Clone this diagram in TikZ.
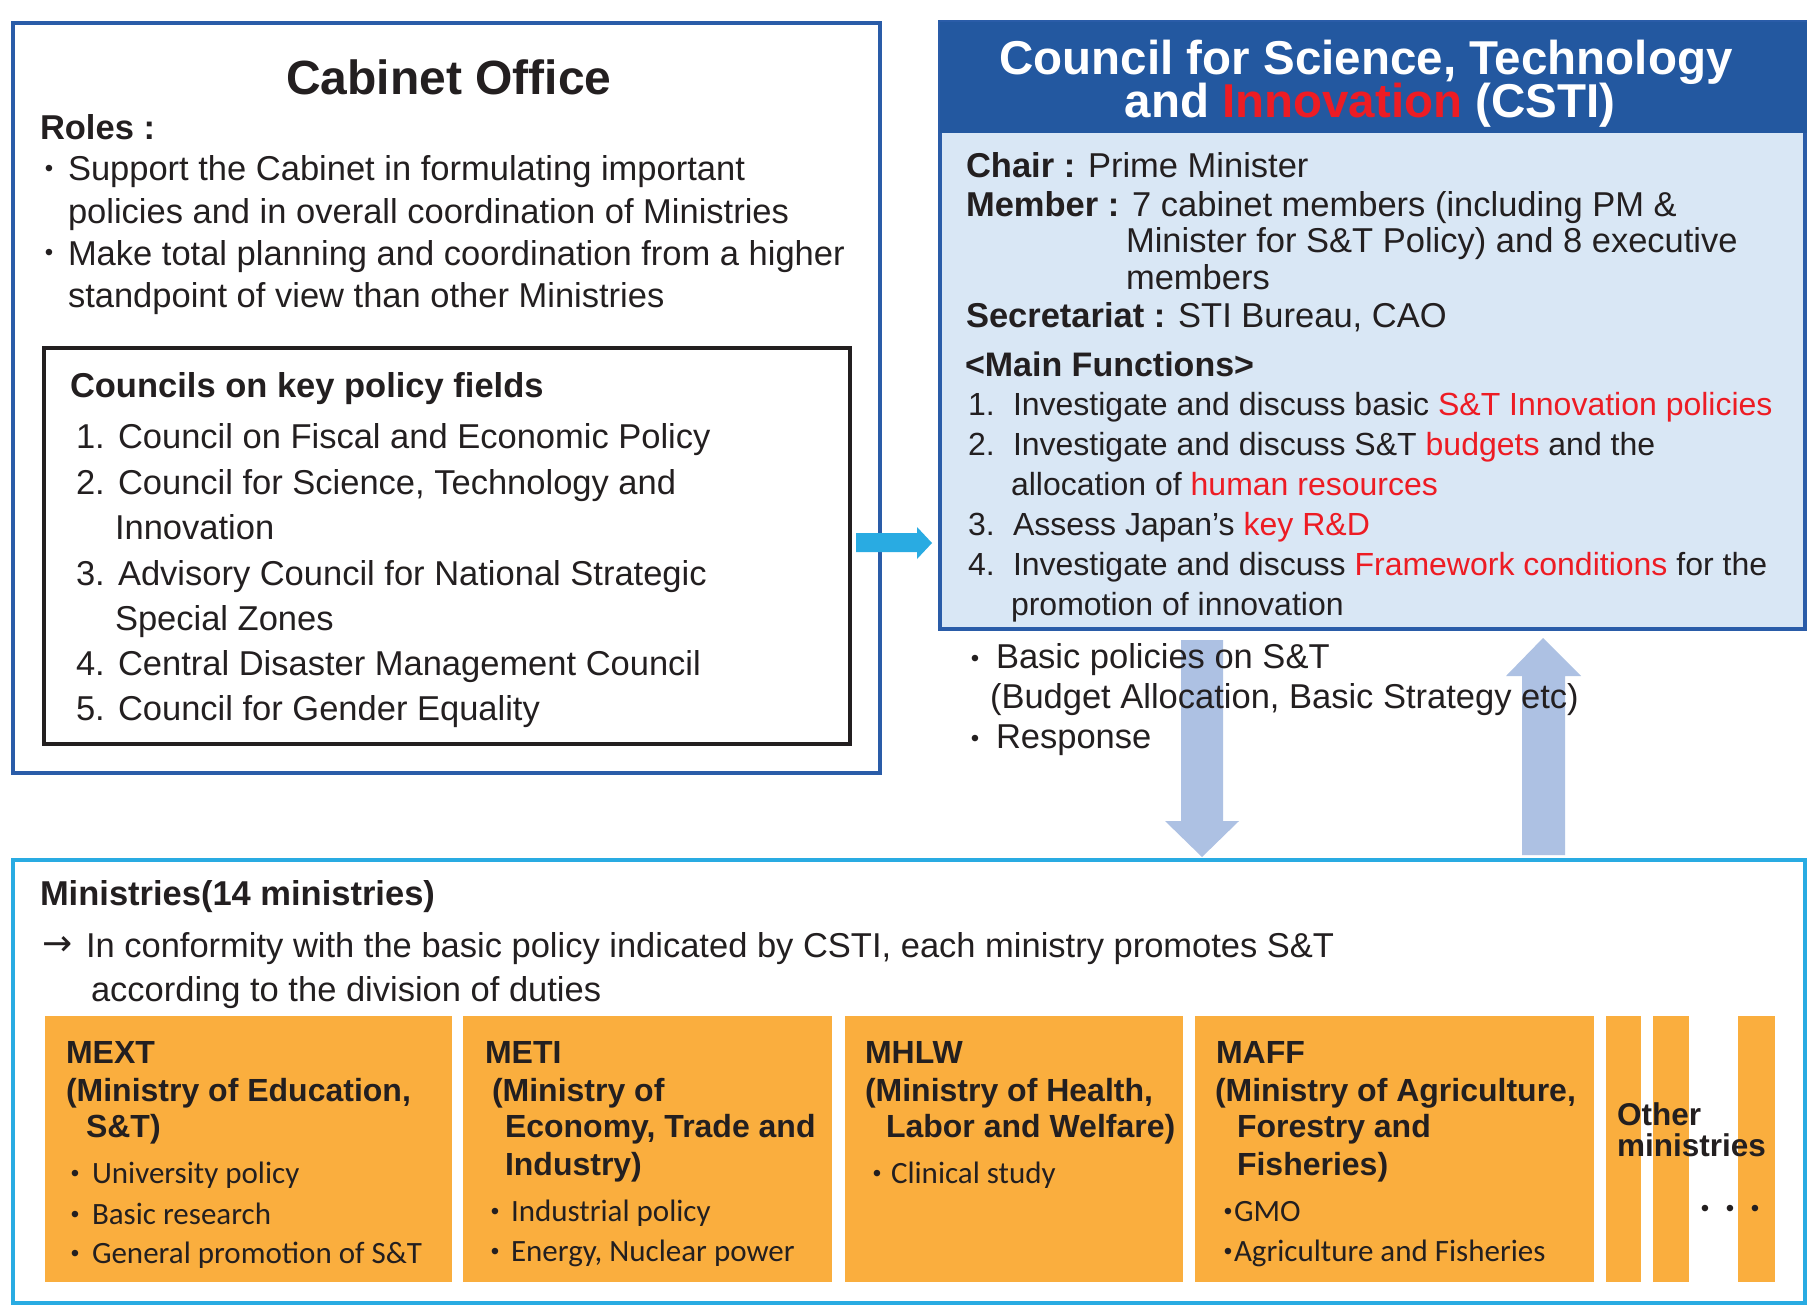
\documentclass[tikz,border=0pt]{standalone}
\usepackage{fontspec}
\setmainfont{Liberation Sans}
\newfontfamily\myr{Carlito}
\newfontfamily\djv{DejaVu Sans}
\definecolor{ink}{RGB}{35,31,32}
\definecolor{cobalt}{RGB}{42,92,168}
\definecolor{hdrblue}{RGB}{35,88,160}
\definecolor{paleblue}{RGB}{217,231,245}
\definecolor{redtx}{RGB}{237,28,36}
\definecolor{cyanln}{RGB}{41,171,226}
\definecolor{arrowblue}{RGB}{173,193,227}
\definecolor{orangebx}{RGB}{250,174,62}
\tikzset{
  txt/.style={anchor=base west, inner sep=0pt, outer sep=0pt, text=ink, font=\fontsize{34.5}{40}\selectfont},
  txtb/.style={txt, font=\fontsize{34.5}{40}\selectfont\bfseries},
  fn/.style={txt, font=\fontsize{32}{38}\selectfont},
  title/.style={anchor=base, inner sep=0pt, text=ink, font=\fontsize{48}{52}\selectfont\bfseries},
  hdr/.style={anchor=base, inner sep=0pt, text=white, font=\fontsize{47.5}{50}\selectfont\bfseries},
  minh/.style={txt, font=\fontsize{32}{37}\selectfont\bfseries},
  mins/.style={txt, font=\myr\fontsize{31}{37}\selectfont},
  dot/.style={anchor=base, inner sep=0pt, text=ink, font=\fontsize{24}{24}\selectfont},
  frame/.style={draw, line width=#1, inner sep=0pt, outer sep=0pt},
  obox/.style={fill=orangebx, inner sep=0pt, outer sep=0pt, anchor=north west},
  bigarrow/.style={fill=arrowblue, draw=none},
}
\begin{document}
\begin{tikzpicture}[x=1pt,y=-1pt]
\useasboundingbox (0,0) rectangle (1809,1316);
\fill[white] (0,0) rectangle (1809,1316);

% ---------- Cabinet Office ----------
\node[frame=3.5pt, draw=cobalt, minimum width=867pt, minimum height=750pt] (co) at (446.5,398) {};
\node[title] (co_title) at (449,95) {Cabinet Office};
\node[txtb] (co_roles) at (40,140) {Roles :};
\node[dot] (co_d1) at (49,176.5) {•};
\node[txt] (co_r1a) at (68,181) {Support the Cabinet in formulating important};
\node[txt] (co_r1b) at (68,223) {policies and in overall coordination of Ministries};
\node[dot] (co_d2) at (49,260.5) {•};
\node[txt] (co_r2a) at (68,265) {Make total planning and coordination from a higher};
\node[txt] (co_r2b) at (68,307) {standpoint of view than other Ministries};

\node[frame=4pt, draw=ink, minimum width=805.5pt, minimum height=396pt] (kc) at (446.75,546) {};
\node[txtb] (kc_h) at (70,397) {Councils on key policy fields};
\node[txt] (kc_n1) at (76,448) {1.};
\node[txt] (kc_t1) at (118,448) {Council on Fiscal and Economic Policy};
\node[txt] (kc_n2) at (76,494) {2.};
\node[txt] (kc_t2) at (118,494) {Council for Science, Technology and};
\node[txt] (kc_t2b) at (115,539) {Innovation};
\node[txt] (kc_n3) at (76,585) {3.};
\node[txt] (kc_t3) at (118,585) {Advisory Council for National Strategic};
\node[txt] (kc_t3b) at (115,630) {Special Zones};
\node[txt] (kc_n4) at (76,675) {4.};
\node[txt] (kc_t4) at (118,675) {Central Disaster Management Council};
\node[txt] (kc_n5) at (76,720) {5.};
\node[txt] (kc_t5) at (118,720) {Council for Gender Equality};

% ---------- CSTI ----------
\node[frame=4pt, draw=cobalt, fill=paleblue, minimum width=865pt, minimum height=607pt] (csti) at (1372.5,325.5) {};
\fill[hdrblue] (csti.north west) rectangle (1807,133);
\node[hdr] (csti_t1) at (1366,75) {Council for Science, Technology};
\node[hdr] (csti_t2) at (1370,118) {and \textcolor{redtx}{Innovation} (CSTI)};
\node[txt] (cs_chair) at (966,178) {\textbf{Chair :} Prime Minister};
\node[txt] (cs_mem) at (966,216) {\textbf{Member :} 7 cabinet members (including PM \&};
\node[txt] (cs_mem2) at (1126,252) {Minister for S\&T Policy) and 8 executive};
\node[txt] (cs_mem3) at (1126,289) {members};
\node[txt] (cs_sec) at (966,327) {\textbf{Secretariat :} STI Bureau, CAO};
\node[txtb, font=\fontsize{34}{40}\selectfont\bfseries] (cs_mf) at (965,376) {<Main Functions>};
\node[fn] (cs_n1) at (968,415) {1.};
\node[fn] (cs_f1) at (1013,415) {Investigate and discuss basic \textcolor{redtx}{S\&T Innovation policies}};
\node[fn] (cs_n2) at (968,455) {2.};
\node[fn] (cs_f2) at (1013,455) {Investigate and discuss S\&T \textcolor{redtx}{budgets} and the};
\node[fn] (cs_f2b) at (1011,495) {allocation of \textcolor{redtx}{human resources}};
\node[fn] (cs_n3) at (968,535) {3.};
\node[fn] (cs_f3) at (1013,535) {Assess Japan’s \textcolor{redtx}{key R\&D}};
\node[fn] (cs_n4) at (968,575) {4.};
\node[fn] (cs_f4) at (1013,575) {Investigate and discuss \textcolor{redtx}{Framework conditions} for the};
\node[fn] (cs_f4b) at (1011,615) {promotion of innovation};

% ---------- cyan arrow Cabinet -> CSTI ----------
\coordinate (ca_s) at (856,542.5);
\fill[cyanln] (ca_s) ++(0,-9.5) -- (917,533) -- (917,527) -- (932,543) -- (917,559) -- (917,552) -- (856,552) -- cycle;

% ---------- Ministries ----------
\node[frame=4pt, draw=cyanln, minimum width=1792pt, minimum height=443pt] (mn) at (909,1081.5) {};

% big vertical arrows
\fill[bigarrow] (1181,640) -- (1223,640) -- (1223,821) -- (1239,821) -- (1202,857) -- (1165,821) -- (1181,821) -- cycle;
\fill[bigarrow] (1543,638) -- (1581,676) -- (1565,676) -- (1565,855) -- (1522,855) -- (1522,676) -- (1506,676) -- cycle;

\node[dot] (bp_d1) at (975,666.5) {•};
\node[txt] (bp_1) at (996,668) {Basic policies on S\&T};
\node[txt] (bp_2) at (990,708) {(Budget Allocation, Basic Strategy etc)};
\node[dot] (bp_d2) at (975,746.5) {•};
\node[txt] (bp_3) at (996,748) {Response};

\node[txtb] (mn_h) at (40,905) {Ministries(14 ministries)};
\node[txt, font=\djv\fontsize{36}{40}\selectfont] (mn_arr) at (42,955) {→};
\node[txt] (mn_t1) at (86,957) {In conformity with the basic policy indicated by CSTI, each ministry promotes S\&T};
\node[txt] (mn_t2) at (91,1001) {according to the division of duties};

% orange boxes
\node[obox, minimum width=407pt, minimum height=266pt] (mext) at (45,1016) {};
\node[obox, minimum width=369pt, minimum height=266pt] (meti) at (463,1016) {};
\node[obox, minimum width=338pt, minimum height=266pt] (mhlw) at (845,1016) {};
\node[obox, minimum width=399pt, minimum height=266pt] (maff) at (1195,1016) {};
\node[obox, minimum width=35pt, minimum height=266pt] (oth1) at (1606,1016) {};
\node[obox, minimum width=36pt, minimum height=266pt] (oth2) at (1653,1016) {};
\node[obox, minimum width=37pt, minimum height=266pt] (oth3) at (1738,1016) {};

% MEXT
\node[minh] (mext_h) at (66,1063) {MEXT};
\node[minh] (mext_h2) at (66,1101) {(Ministry of Education,};
\node[minh] (mext_h3) at (86,1137) {S\&T)};
\node[dot] (mext_d1) at (75,1181.5) {•};
\node[mins] (mext_s1) at (92,1183) {University policy};
\node[dot] (mext_d2) at (75,1222.5) {•};
\node[mins] (mext_s2) at (92,1224) {Basic research};
\node[dot] (mext_d3) at (75,1261.5) {•};
\node[mins] (mext_s3) at (92,1263) {General promotion of S\&T};

% METI
\node[minh] (meti_h) at (485,1063) {METI};
\node[minh] (meti_h2) at (492,1101) {(Ministry of};
\node[minh] (meti_h3) at (505,1137) {Economy, Trade and};
\node[minh] (meti_h4) at (505,1175) {Industry)};
\node[dot] (meti_d1) at (495,1219.5) {•};
\node[mins] (meti_s1) at (511,1221) {Industrial policy};
\node[dot] (meti_d2) at (495,1259.5) {•};
\node[mins] (meti_s2) at (511,1261) {Energy, Nuclear power};

% MHLW
\node[minh] (mhlw_h) at (865,1063) {MHLW};
\node[minh] (mhlw_h2) at (865,1101) {(Ministry of Health,};
\node[minh] (mhlw_h3) at (886,1137) {Labor and Welfare)};
\node[dot] (mhlw_d1) at (877,1181.5) {•};
\node[mins] (mhlw_s1) at (891,1183) {Clinical study};

% MAFF
\node[minh] (maff_h) at (1216,1063) {MAFF};
\node[minh] (maff_h2) at (1215,1101) {(Ministry of Agriculture,};
\node[minh] (maff_h3) at (1237,1137) {Forestry and};
\node[minh] (maff_h4) at (1237,1175) {Fisheries)};
\node[dot] (maff_d1) at (1228,1219.5) {•};
\node[mins] (maff_s1) at (1234,1221) {GMO};
\node[dot] (maff_d2) at (1228,1259.5) {•};
\node[mins] (maff_s2) at (1234,1261) {Agriculture and Fisheries};

% Other ministries
\node[minh, font=\fontsize{31.5}{36}\selectfont\bfseries] (oth_h) at (1617,1125) {Other};
\node[minh, font=\fontsize{31.5}{36}\selectfont\bfseries] (oth_h2) at (1617,1156) {ministries};
\node[dot] (oth_dots) at (1730,1216.5) {•\kern16.6pt•\kern16.6pt•};
\end{tikzpicture}
\end{document}
